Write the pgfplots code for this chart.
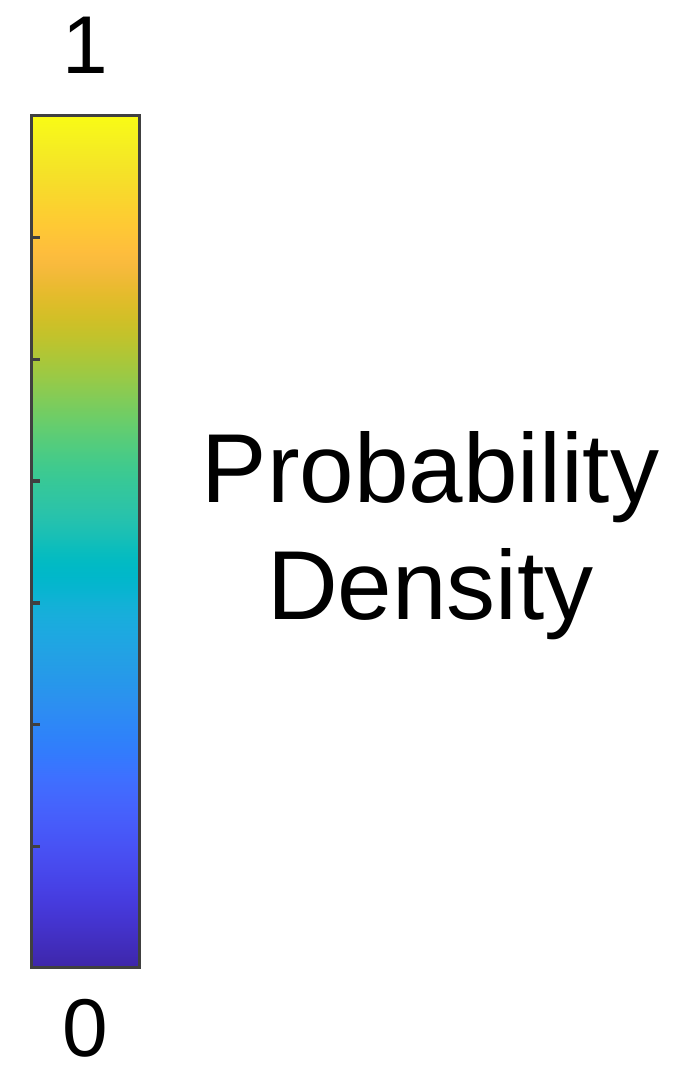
\documentclass[border=0pt]{standalone}
\usepackage{fontspec}
\setmainfont{Liberation Sans}
\usepackage{pgfplots}
\pgfplotsset{compat=1.18}
\pgfplotsset{colormap={parula}{
rgb=(0.2422,0.1504,0.6603) rgb=(0.2504,0.1650,0.7076) rgb=(0.2578,0.1818,0.7511) rgb=(0.2647,0.1978,0.7952)
rgb=(0.2706,0.2147,0.8364) rgb=(0.2751,0.2342,0.8710) rgb=(0.2783,0.2559,0.8991) rgb=(0.2803,0.2782,0.9221)
rgb=(0.2813,0.3006,0.9414) rgb=(0.2810,0.3228,0.9579) rgb=(0.2795,0.3447,0.9717) rgb=(0.2760,0.3667,0.9829)
rgb=(0.2699,0.3892,0.9906) rgb=(0.2602,0.4123,0.9952) rgb=(0.2440,0.4358,0.9988) rgb=(0.2206,0.4603,0.9973)
rgb=(0.1963,0.4847,0.9892) rgb=(0.1834,0.5074,0.9798) rgb=(0.1786,0.5289,0.9682) rgb=(0.1764,0.5499,0.9520)
rgb=(0.1687,0.5703,0.9359) rgb=(0.1540,0.5902,0.9218) rgb=(0.1460,0.6091,0.9079) rgb=(0.1380,0.6276,0.8973)
rgb=(0.1248,0.6459,0.8883) rgb=(0.1113,0.6635,0.8763) rgb=(0.0952,0.6798,0.8598) rgb=(0.0689,0.6948,0.8394)
rgb=(0.0297,0.7082,0.8163) rgb=(0.0036,0.7203,0.7917) rgb=(0.0067,0.7312,0.7660) rgb=(0.0433,0.7411,0.7394)
rgb=(0.0964,0.7500,0.7120) rgb=(0.1408,0.7584,0.6842) rgb=(0.1717,0.7670,0.6554) rgb=(0.1938,0.7758,0.6251)
rgb=(0.2161,0.7843,0.5923) rgb=(0.2470,0.7918,0.5567) rgb=(0.2906,0.7973,0.5188) rgb=(0.3406,0.8008,0.4789)
rgb=(0.3909,0.8029,0.4354) rgb=(0.4456,0.8024,0.3909) rgb=(0.5044,0.7993,0.3480) rgb=(0.5616,0.7942,0.3045)
rgb=(0.6174,0.7876,0.2612) rgb=(0.6720,0.7793,0.2227) rgb=(0.7242,0.7698,0.1910) rgb=(0.7738,0.7598,0.1646)
rgb=(0.8203,0.7498,0.1535) rgb=(0.8634,0.7406,0.1596) rgb=(0.9035,0.7330,0.1774) rgb=(0.9393,0.7288,0.2100)
rgb=(0.9728,0.7298,0.2394) rgb=(0.9956,0.7434,0.2371) rgb=(0.9970,0.7659,0.2199) rgb=(0.9952,0.7893,0.2028)
rgb=(0.9892,0.8136,0.1885) rgb=(0.9786,0.8386,0.1766) rgb=(0.9676,0.8639,0.1643) rgb=(0.9610,0.8890,0.1537)
rgb=(0.9597,0.9135,0.1423) rgb=(0.9628,0.9373,0.1265) rgb=(0.9691,0.9606,0.1064) rgb=(0.9769,0.9839,0.0805)
}}
\begin{document}
\begin{tikzpicture}[x=1pt,y=1pt]
\path[use as bounding box] (0,0) rectangle (679,1067);
\begin{axis}[
  at={(32pt,99pt)}, anchor=south west,
  scale only axis, width=107pt, height=852pt,
  xmin=0, xmax=1, ymin=0, ymax=1,
  clip=false,
  colormap name=parula, point meta min=0, point meta max=1,
  axis on top,
  xtick=\empty,
  ytick={0.142857,0.285714,0.428571,0.571429,0.714286,0.857143},
  yticklabels={},
  ytick pos=left, tick align=inside, major tick length=8pt,
  line width=3pt,
  axis line style={draw=black!75, line width=3pt},
  tick style={black!75, line width=3.5pt},
  major tick style={draw=black!75, line width=3.5pt},
  title={1},
  title style={font=\fontsize{82}{96}\selectfont, at={(0.5,1)}, anchor=base, yshift=36pt, inner sep=0pt},
  xlabel={0},
  xlabel style={font=\fontsize{82}{96}\selectfont, at={(0.5,0)}, anchor=north, yshift=-30pt, inner sep=0pt, text depth=0pt},
]
\addplot[surf, shader=interp, point meta=y] table {
x y
0 0
1 0

0 0.142857
1 0.142857

0 0.285714
1 0.285714

0 0.428571
1 0.428571

0 0.571429
1 0.571429

0 0.714286
1 0.714286

0 0.857143
1 0.857143

0 1
1 1
};
\node[font=\fontsize{98}{117}\selectfont, anchor=base, inner sep=0pt] at (rel axis cs:3.724,0.5458) {Probability};
\node[font=\fontsize{98}{117}\selectfont, anchor=base, inner sep=0pt] at (rel axis cs:3.724,0.4085) {Density};
\end{axis}
\end{tikzpicture}
\end{document}
